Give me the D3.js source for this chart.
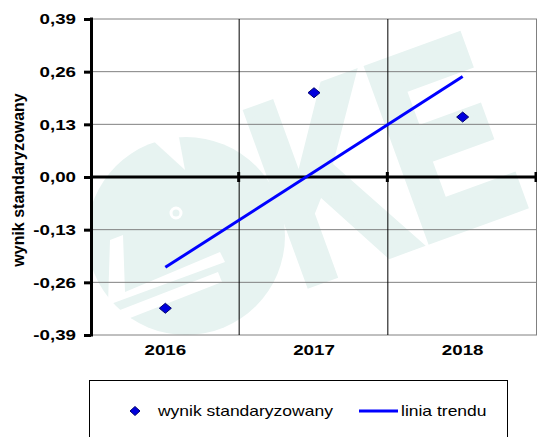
<!DOCTYPE html>
<html>
<head>
<meta charset="utf-8">
<script src="https://cdn.jsdelivr.net/npm/d3@7"></script>
<style>
  body { margin: 0; background: #fff; }
  svg { display: block; font-family: "Liberation Sans", Arial, sans-serif; }
</style>
</head>
<body>
<div class="chart"></div>
<script>
// data
const years = ['2016', '2017', '2018'];
const scores = [-0.324, 0.208, 0.148];
const trendYears = ['2016', '2018'];
const trendValues = [-0.223, 0.248];
const yTicks = [-0.39, -0.26, -0.13, 0, 0.13, 0.26, 0.39];

const width = 537;
const height = 437;
const plotLeft = 91, plotRight = 537, plotTop = 19, plotBottom = 335;
const stretch = 1.25; // the source text is a bit wide

const svg = d3.select('.chart')
    .append('svg')
    .attr('width', width)
    .attr('height', height)

const x = d3.scaleBand().domain(years).range([plotLeft, plotRight])
const y = d3.scaleLinear().domain([-0.39, 0.39]).range([plotBottom, plotTop])

const fmt = v => d3.format('.2f')(v).replace('.', ',').replace('−', '-')

// watermark (pale logo behind the plot)
svg.append('clipPath').attr('id', 'plotclip')
    .append('rect')
    .attr('x', plotLeft).attr('y', plotTop)
    .attr('width', plotRight - plotLeft).attr('height', plotBottom - plotTop)

const wm = svg.append('g').attr('clip-path', 'url(#plotclip)')
const wmColor = '#e7f3f1'
wm.append('circle')
    .attr('cx', 186).attr('cy', 236).attr('r', 99)
    .attr('fill', wmColor)
wm.append('path')
    .attr('d', 'M150,138 L178,132 L185,170 Z')
    .attr('fill', '#fff')
wm.append('path')
    .attr('d', 'M108,305 L225,262 L220,252 L125,292 L123,235 L110,240 Z')
    .attr('fill', '#fff')
wm.append('path')
    .attr('d', 'M125,320 L222,282 L218,272 L120,310 Z')
    .attr('fill', '#fff')
wm.append('circle')
    .attr('cx', 176).attr('cy', 213).attr('r', 5)
    .attr('fill', 'none').attr('stroke', '#fff').attr('stroke-width', 3)
wm.append('text')
    .attr('transform', 'translate(298,287) rotate(-20) scale(0.68,1)')
    .attr('font-size', 262)
    .attr('font-weight', 'bold')
    .attr('fill', wmColor)
    .attr('stroke', wmColor)
    .attr('stroke-width', 10)
    .attr('stroke-linejoin', 'miter')
    .text('KE')

// horizontal gridlines
svg.selectAll('.hgrid')
    .data(yTicks)
    .enter()
    .append('line')
    .attr('x1', plotLeft).attr('x2', plotRight)
    .attr('y1', d => y(d)).attr('y2', d => y(d))
    .attr('stroke', '#808080')
    .attr('stroke-width', 1)

// vertical gridlines between categories
svg.selectAll('.vgrid')
    .data(years.slice(1))
    .enter()
    .append('line')
    .attr('x1', d => x(d) - 0.5).attr('x2', d => x(d) - 0.5)
    .attr('y1', plotTop).attr('y2', plotBottom)
    .attr('stroke', '#000')
    .attr('stroke-width', 1)

svg.append('line')
    .attr('x1', plotRight - 0.5).attr('x2', plotRight - 0.5)
    .attr('y1', plotTop).attr('y2', plotBottom)
    .attr('stroke', '#808080')

// zero line with category ticks
svg.append('line')
    .attr('x1', plotLeft).attr('x2', plotRight)
    .attr('y1', y(0)).attr('y2', y(0))
    .attr('stroke', '#000')
    .attr('stroke-width', 3)

svg.selectAll('.ztick')
    .data(years)
    .enter()
    .append('line')
    .attr('x1', d => x(d) + x.bandwidth() - 1)
    .attr('x2', d => x(d) + x.bandwidth() - 1)
    .attr('y1', y(0) - 5).attr('y2', y(0) + 5)
    .attr('stroke', '#000')
    .attr('stroke-width', 3)

// y axis
const yAxis = svg.append('g')
    .attr('transform', `translate(${plotLeft},0)`)
    .call(d3.axisLeft(y).tickValues(yTicks).tickSize(7).tickFormat(fmt))

yAxis.select('.domain')
    .attr('stroke', '#000')
    .attr('stroke-width', 3)
    .attr('d', `M0.5,${plotTop - 1.5}V${plotBottom + 1.5}`)
yAxis.selectAll('.tick line').attr('stroke-width', 3)
yAxis.selectAll('.tick text')
    .attr('x', -15 / stretch)
    .attr('transform', `scale(${stretch},1)`)
    .attr('font-size', 15)
    .attr('font-weight', 'bold')
    .attr('font-family', '"Liberation Sans", Arial, sans-serif')
    .attr('fill', '#000')

// x labels
svg.selectAll('.xlabel')
    .data(years)
    .enter()
    .append('text')
    .attr('transform', d => `translate(${x(d) + x.bandwidth() / 2},355) scale(${stretch},1)`)
    .attr('text-anchor', 'middle')
    .attr('font-size', 15)
    .attr('font-weight', 'bold')
    .text(d => d)

// y title
svg.append('text')
    .attr('transform', 'translate(24,180) rotate(-90)')
    .attr('text-anchor', 'middle')
    .attr('font-size', 16)
    .attr('font-weight', 'bold')
    .text('wynik standaryzowany')

// trend line
const line = d3.line()
    .x(d => x(d.year) + x.bandwidth() / 2)
    .y(d => y(d.value))

svg.append('path')
    .datum(trendYears.map((yr, i) => ({ year: yr, value: trendValues[i] })))
    .attr('d', line)
    .attr('fill', 'none')
    .attr('stroke', '#0000ff')
    .attr('stroke-width', 3)

// points
const diamond = 'M0,-5 L6,0 L0,5 L-6,0 Z'
svg.selectAll('.point')
    .data(years)
    .enter()
    .append('path')
    .attr('d', diamond)
    .attr('transform', (d, i) => `translate(${x(d) + x.bandwidth() / 2},${y(scores[i])})`)
    .attr('fill', '#0000dd')
    .attr('stroke', '#00006e')
    .attr('stroke-width', 1)

// legend
svg.append('rect')
    .attr('x', 89.5).attr('y', 380.5)
    .attr('width', 418).attr('height', 80)
    .attr('fill', '#fff')
    .attr('stroke', '#000')

svg.append('path')
    .attr('d', 'M0,-4.5 L5,0 L0,4.5 L-5,0 Z')
    .attr('transform', 'translate(135,411)')
    .attr('fill', '#0000dd')
    .attr('stroke', '#00006e')

svg.append('text')
    .attr('transform', `translate(158,416) scale(${stretch},1)`)
    .attr('font-size', 14)
    .text('wynik standaryzowany')

svg.append('line')
    .attr('x1', 359).attr('x2', 398)
    .attr('y1', 411).attr('y2', 411)
    .attr('stroke', '#0000ff')
    .attr('stroke-width', 3)

svg.append('text')
    .attr('transform', `translate(401,416) scale(${stretch},1)`)
    .attr('font-size', 14)
    .text('linia trendu')
</script>
</body>
</html>
